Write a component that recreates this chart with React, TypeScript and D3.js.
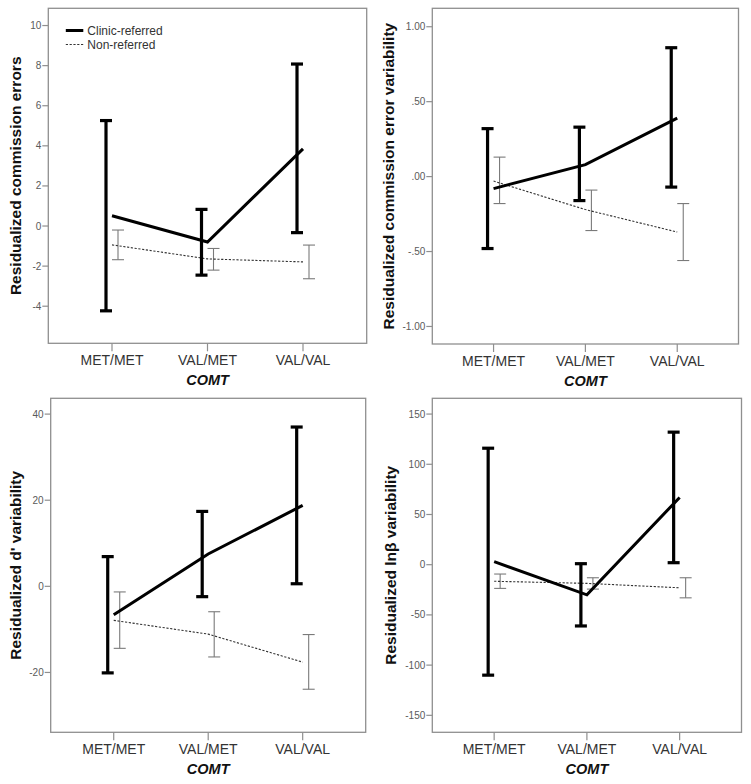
import React from "react";
import * as d3 from "d3";

const categories = ["MET/MET", "VAL/MET", "VAL/VAL"];
const seriesNames = ["Clinic-referred", "Non-referred"];
const xTitle = "COMT";

// Panel 1: Residualized commission errors
const p1ClinicMean = [0.51, -0.8, 3.85];
const p1ClinicLow = [-4.23, -2.45, -0.33];
const p1ClinicHigh = [5.26, 0.83, 8.08];
const p1NonMean = [-0.94, -1.64, -1.79];
const p1NonLow = [-1.68, -2.2, -2.63];
const p1NonHigh = [-0.2, -1.12, -0.95];
const p1Ticks = [-4, -2, 0, 2, 4, 6, 8, 10];

// Panel 2: Residualized commission error variability
const p2ClinicMean = [-0.08, 0.08, 0.39];
const p2ClinicLow = [-0.48, -0.16, -0.07];
const p2ClinicHigh = [0.32, 0.33, 0.86];
const p2NonMean = [-0.03, -0.22, -0.37];
const p2NonLow = [-0.18, -0.36, -0.56];
const p2NonHigh = [0.13, -0.09, -0.18];
const p2Ticks = [-1, -0.5, 0, 0.5, 1];

// Panel 3: Residualized d' variability
const p3ClinicMean = [-6.6, 7.5, 18.8];
const p3ClinicLow = [-20.1, -2.4, 0.6];
const p3ClinicHigh = [6.9, 17.4, 37.0];
const p3NonMean = [-7.9, -11.1, -17.6];
const p3NonLow = [-14.4, -16.4, -23.9];
const p3NonHigh = [-1.3, -5.9, -11.2];
const p3Ticks = [-20, 0, 20, 40];

// Panel 4: Residualized lnβ variability
const p4ClinicMean = [3, -30, 67];
const p4ClinicLow = [-110, -61, 2];
const p4ClinicHigh = [116, 1, 132];
const p4NonMean = [-16.5, -18.6, -23];
const p4NonLow = [-23.6, -24.3, -33];
const p4NonHigh = [-9.3, -13, -13];
const p4Ticks = [-150, -100, -50, 0, 50, 100, 150];

const intFmt = (d: number) => String(d);
const decFmt = (d: number) => (d < 0 ? "-" : "") + Math.abs(d).toFixed(2).replace(/^0/, "");

const FONT = "'Liberation Sans', Arial, Helvetica, sans-serif";

type Series = { mean: number[]; low: number[]; high: number[] };
type Panel = {
  title: string;
  yDomain: [number, number];
  ticks: number[];
  fmt: (d: number) => string;
  clinic: Series;
  non: Series;
  box: { x0: number; x1: number; y0: number; y1: number };
  labelX: number;
  legend: boolean;
};

const panels: Panel[] = [
  {
    title: "Residualized commission errors",
    yDomain: [-5.85, 10.86],
    ticks: p1Ticks,
    fmt: intFmt,
    clinic: { mean: p1ClinicMean, low: p1ClinicLow, high: p1ClinicHigh },
    non: { mean: p1NonMean, low: p1NonLow, high: p1NonHigh },
    box: { x0: 48.3, x1: 366.7, y0: 8.3, y1: 343.3 },
    labelX: 21,
    legend: true,
  },
  {
    title: "Residualized commission error variability",
    yDomain: [-1.117, 1.123],
    ticks: p2Ticks,
    fmt: decFmt,
    clinic: { mean: p2ClinicMean, low: p2ClinicLow, high: p2ClinicHigh },
    non: { mean: p2NonMean, low: p2NonLow, high: p2NonHigh },
    box: { x0: 432.3, x1: 738.5, y0: 8.3, y1: 344.0 },
    labelX: 393.5,
    legend: false,
  },
  {
    title: "Residualized d' variability",
    yDomain: [-33.9, 43.67],
    ticks: p3Ticks,
    fmt: intFmt,
    clinic: { mean: p3ClinicMean, low: p3ClinicLow, high: p3ClinicHigh },
    non: { mean: p3NonMean, low: p3NonLow, high: p3NonHigh },
    box: { x0: 50.7, x1: 365.7, y0: 398.3, y1: 732.3 },
    labelX: 20.5,
    legend: false,
  },
  {
    title: "Residualized lnβ variability",
    yDomain: [-166.9, 165.7],
    ticks: p4Ticks,
    fmt: intFmt,
    clinic: { mean: p4ClinicMean, low: p4ClinicLow, high: p4ClinicHigh },
    non: { mean: p4NonMean, low: p4NonLow, high: p4NonHigh },
    box: { x0: 432.3, x1: 741.5, y0: 398.3, y1: 732.3 },
    labelX: 396,
    legend: false,
  },
];

function ChartPanel({ p }: { p: Panel }) {
  const { box } = p;
  const x = d3.scalePoint<string>().domain(categories).range([box.x0, box.x1]).padding(0.667);
  const y = d3.scaleLinear().domain(p.yDomain).range([box.y1, box.y0]);
  const line = d3
    .line<number>()
    .x((_, i) => x(categories[i]) as number)
    .y((d) => y(d));
  const clinicOff = -6;
  const nonOff = 6;
  const cap = 6;
  const cy = (box.y0 + box.y1) / 2;

  return (
    <g>
      <rect
        x={box.x0}
        y={box.y0}
        width={box.x1 - box.x0}
        height={box.y1 - box.y0}
        fill="none"
        stroke="#8f8f8f"
        strokeWidth={1.3}
      />
      {p.ticks.map((t) => (
        <g key={t}>
          <line x1={box.x0 - 6} x2={box.x0} y1={y(t)} y2={y(t)} stroke="#8f8f8f" strokeWidth={1.2} />
          <text
            x={box.x0 - 7}
            y={y(t)}
            dy="0.35em"
            textAnchor="end"
            fontSize={10}
            fill="#5a5a5a"
            fontFamily={FONT}
          >
            {p.fmt(t)}
          </text>
        </g>
      ))}
      {categories.map((c) => (
        <g key={c}>
          <line x1={x(c)} x2={x(c)} y1={box.y1} y2={box.y1 + 8} stroke="#8f8f8f" strokeWidth={1.2} />
          <text
            x={x(c)}
            y={box.y1 + 21.5}
            textAnchor="middle"
            fontSize={14}
            fill="#333"
            fontFamily={FONT}
          >
            {c}
          </text>
        </g>
      ))}
      <text
        x={x(categories[1]) as number}
        y={box.y1 + 42}
        textAnchor="middle"
        fontSize={14.5}
        fontWeight="bold"
        fontStyle="italic"
        fill="#111"
        fontFamily={FONT}
      >
        {xTitle}
      </text>
      <text
        transform={`translate(${p.labelX},${cy}) rotate(-90)`}
        textAnchor="middle"
        fontSize={15.5}
        fontWeight="bold"
        fill="#111"
        fontFamily={FONT}
      >
        {p.title}
      </text>
      {categories.map((c, i) => {
        const cx = (x(c) as number) + nonOff;
        return (
          <g key={"n" + c} stroke="#7a7a7a" strokeWidth={1.1}>
            <line x1={cx} x2={cx} y1={y(p.non.low[i])} y2={y(p.non.high[i])} />
            <line x1={cx - cap} x2={cx + cap} y1={y(p.non.low[i])} y2={y(p.non.low[i])} />
            <line x1={cx - cap} x2={cx + cap} y1={y(p.non.high[i])} y2={y(p.non.high[i])} />
          </g>
        );
      })}
      <path d={line(p.non.mean) || ""} fill="none" stroke="#333" strokeWidth={1.1} strokeDasharray="2.2,1.6" />
      {categories.map((c, i) => {
        const cx = (x(c) as number) + clinicOff;
        return (
          <g key={"c" + c} stroke="#000" strokeWidth={3.2}>
            <line x1={cx} x2={cx} y1={y(p.clinic.low[i])} y2={y(p.clinic.high[i])} />
            <line x1={cx - cap} x2={cx + cap} y1={y(p.clinic.low[i])} y2={y(p.clinic.low[i])} />
            <line x1={cx - cap} x2={cx + cap} y1={y(p.clinic.high[i])} y2={y(p.clinic.high[i])} />
          </g>
        );
      })}
      <path d={line(p.clinic.mean) || ""} fill="none" stroke="#000" strokeWidth={3} />
      {p.legend && (
        <g fontFamily={FONT} fontSize={12} fill="#333">
          <line x1={box.x0 + 17.5} x2={box.x0 + 35} y1={30.5} y2={30.5} stroke="#000" strokeWidth={3} />
          <text x={box.x0 + 39} y={30.5} dy="0.36em">
            {seriesNames[0]}
          </text>
          <line
            x1={box.x0 + 17.5}
            x2={box.x0 + 35}
            y1={44.5}
            y2={44.5}
            stroke="#333"
            strokeWidth={1.1}
            strokeDasharray="2.2,1.6"
          />
          <text x={box.x0 + 39} y={44.5} dy="0.36em">
            {seriesNames[1]}
          </text>
        </g>
      )}
    </g>
  );
}

export default function App() {
  return (
    <svg
      width={751}
      height={784}
      viewBox="0 0 751 784"
      style={{ position: "absolute", left: 0, top: 0, background: "#fff" }}
    >
      <rect x={0} y={0} width={751} height={784} fill="#fff" />
      {panels.map((p, i) => (
        <ChartPanel key={i} p={p} />
      ))}
    </svg>
  );
}
